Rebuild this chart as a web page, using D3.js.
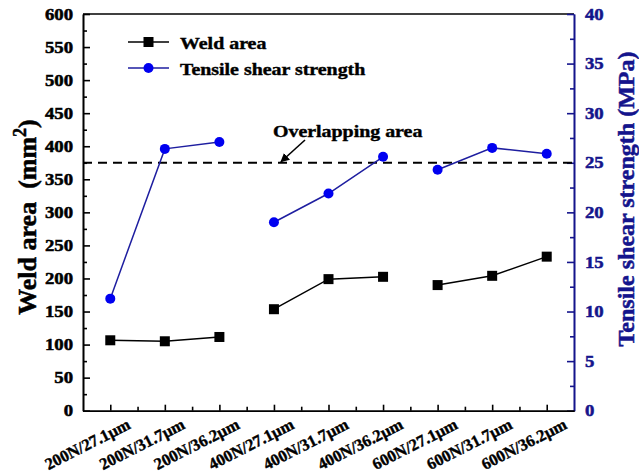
<!DOCTYPE html>
<html><head><meta charset="utf-8">
<script src="https://cdn.jsdelivr.net/npm/d3@7"></script>
<style>
html,body{margin:0;padding:0;background:#fff;}
svg{display:block;font-family:"Liberation Serif","Times New Roman",serif;font-weight:bold;}
svg text{font-family:"Liberation Serif","Times New Roman",serif;font-weight:bold;}
</style></head>
<body><svg id="c" width="639" height="473"></svg>
<script>
const categories = ["200N/27.1\u03bcm","200N/31.7\u03bcm","200N/36.2\u03bcm","400N/27.1\u03bcm","400N/31.7\u03bcm","400N/36.2\u03bcm","600N/27.1\u03bcm","600N/31.7\u03bcm","600N/36.2\u03bcm"];
const groups = ["200N","200N","200N","400N","400N","400N","600N","600N","600N"];
const weldArea = [106.5, 105, 111.5, 153.5, 199, 202.5, 190, 204, 233];
const tensileStrength = [11.3, 26.4, 27.1, 19.0, 21.9, 25.6, 24.3, 26.5, 25.9];
const leftTicks = [0,50,100,150,200,250,300,350,400,450,500,550,600];
const rightTicks = [0,5,10,15,20,25,30,35,40];
const overlapArea = 375;

const navy = "#14148c", blue = "#0000f0", lineBlue = "#1e1ea0";
const svg = d3.select("#c");
const L = 83, R = 574, T = 14, B = 410.7;
const K = 1.17; // horizontal stretch of glyphs seen in the reference

const x = d3.scaleLinear().domain([0, categories.length]).range([L, R]);
const yL = d3.scaleLinear().domain([0, 600]).range([B, T]);
const yR = d3.scaleLinear().domain([0, 40]).range([B, T]);
const cx = i => x(i + 0.5);

function stretch(sel, k) {
  sel.each(function () {
    const l = this.getComputedTextLength();
    this.setAttribute("textLength", l * k);
    this.setAttribute("lengthAdjust", "spacingAndGlyphs");
  });
}
function heavy(sel, color, w) {
  sel.attr("stroke", color).attr("stroke-width", w).attr("paint-order", "stroke");
}

// top border
svg.append("line").attr("x1", L).attr("x2", R).attr("y1", T).attr("y2", T)
  .attr("stroke", "#000").attr("stroke-width", 1.6);

// left axis
const gL = svg.append("g").attr("transform", `translate(${L},0)`);
gL.call(d3.axisLeft(yL).tickValues(leftTicks).tickSizeInner(-7).tickSizeOuter(0).tickPadding(10));
gL.append("g").call(d3.axisLeft(yL).tickValues(d3.range(25, 600, 50)).tickSizeInner(-4).tickSizeOuter(0).tickFormat(""));
gL.selectAll("path,line").attr("stroke", "#000").attr("stroke-width", 1.6);
gL.selectAll("text").attr("font-size", 16).attr("fill", "#000");
heavy(gL.selectAll("text"), "#000", 0.5);
stretch(gL.selectAll("text"), K);

// right axis
const gR = svg.append("g").attr("transform", `translate(${R},0)`);
gR.call(d3.axisRight(yR).tickValues(rightTicks).tickSizeInner(-7).tickSizeOuter(0).tickPadding(11));
gR.append("g").call(d3.axisRight(yR).tickValues(d3.range(2.5, 40, 5)).tickSizeInner(-4).tickSizeOuter(0).tickFormat(""));
gR.selectAll("path,line").attr("stroke", navy).attr("stroke-width", 1.6);
gR.selectAll("text").attr("font-size", 16).attr("fill", navy);
heavy(gR.selectAll("text"), navy, 0.5);
stretch(gR.selectAll("text"), K);

// bottom axis
const gB = svg.append("g").attr("transform", `translate(0,${B})`);
gB.call(d3.axisBottom(x).tickValues(categories.map((c, i) => i + 0.5)).tickSizeInner(-6).tickSizeOuter(0).tickFormat(""));
gB.append("g").call(d3.axisBottom(x).tickValues(d3.range(1, categories.length)).tickSizeInner(-4).tickSizeOuter(0).tickFormat(""));
gB.selectAll("path,line").attr("stroke", "#000").attr("stroke-width", 1.6);

const xl = svg.append("g").selectAll("text").data(categories).join("text")
  .attr("transform", (d, i) => `translate(${cx(i) + 16},${B + 7}) rotate(-27)`)
  .attr("text-anchor", "end").attr("dy", "0.7em")
  .attr("font-size", 16.5).attr("fill", "#000").text(d => d);
heavy(xl, "#000", 0.4);

// overlapping area dashed line
svg.append("line").attr("x1", L).attr("x2", R).attr("y1", yL(overlapArea)).attr("y2", yL(overlapArea))
  .attr("stroke", "#000").attr("stroke-width", 1.8).attr("stroke-dasharray", "9,6");

svg.append("defs").append("marker").attr("id", "ah").attr("viewBox", "0 0 10 10")
  .attr("refX", 9).attr("refY", 5).attr("markerWidth", 9).attr("markerHeight", 9)
  .attr("markerUnits", "userSpaceOnUse").attr("orient", "auto")
  .append("path").attr("d", "M0,0 L10,5 L0,10 Z").attr("fill", "#000");
svg.append("line").attr("x1", 305).attr("y1", 140).attr("x2", 281).attr("y2", yL(overlapArea) - 1)
  .attr("stroke", "#000").attr("stroke-width", 1.6).attr("marker-end", "url(#ah)");
const ov = svg.append("text").attr("x", 273).attr("y", 137).attr("font-size", 17).attr("fill", "#000").text("Overlapping area");
heavy(ov, "#000", 0.4);
stretch(ov, K);

// series lines, broken between groups
const idx = d3.range(categories.length);
const grouped = d3.groups(idx, i => groups[i]);
const lineW = d3.line().x(i => cx(i)).y(i => yL(weldArea[i]));
const lineT = d3.line().x(i => cx(i)).y(i => yR(tensileStrength[i]));
svg.append("g").selectAll("path").data(grouped).join("path")
  .attr("d", d => lineW(d[1])).attr("fill", "none").attr("stroke", "#000").attr("stroke-width", 1.5);
svg.append("g").selectAll("path").data(grouped).join("path")
  .attr("d", d => lineT(d[1])).attr("fill", "none").attr("stroke", lineBlue).attr("stroke-width", 1.5);

const sq = 10;
svg.append("g").selectAll("rect").data(idx).join("rect")
  .attr("x", i => cx(i) - sq / 2).attr("y", i => yL(weldArea[i]) - sq / 2)
  .attr("width", sq).attr("height", sq).attr("fill", "#000");
svg.append("g").selectAll("circle").data(idx).join("circle")
  .attr("cx", i => cx(i)).attr("cy", i => yR(tensileStrength[i])).attr("r", 5).attr("fill", blue);

// legend
const lg = svg.append("g");
lg.append("line").attr("x1", 128).attr("x2", 169).attr("y1", 42).attr("y2", 42).attr("stroke", "#000").attr("stroke-width", 1.5);
lg.append("rect").attr("x", 148.5 - sq / 2).attr("y", 42 - sq / 2).attr("width", sq).attr("height", sq).attr("fill", "#000");
lg.append("line").attr("x1", 128).attr("x2", 169).attr("y1", 68).attr("y2", 68).attr("stroke", lineBlue).attr("stroke-width", 1.5);
lg.append("circle").attr("cx", 148.5).attr("cy", 68).attr("r", 5).attr("fill", blue);
const lt1 = lg.append("text").attr("x", 180).attr("y", 48.5).attr("font-size", 17).attr("fill", "#000").text("Weld area");
const lt2 = lg.append("text").attr("x", 180).attr("y", 74.5).attr("font-size", 17).attr("fill", "#000").text("Tensile shear strength");
heavy(lt1, "#000", 0.4); heavy(lt2, "#000", 0.4);
stretch(lt1, K); stretch(lt2, K);

// axis titles
const t1 = svg.append("text").attr("transform", "translate(36,217) rotate(-90)").attr("text-anchor", "middle")
  .attr("font-size", 26).attr("fill", "#000");
t1.append("tspan").text("Weld area\u00a0 (mm");
t1.append("tspan").attr("font-size", 18).attr("dy", -10).text("2");
t1.append("tspan").attr("dy", 10).text(")");
heavy(t1, "#000", 0.5);

const t2 = svg.append("text").attr("transform", "translate(634,199) rotate(-90)").attr("text-anchor", "middle")
  .attr("font-size", 24).attr("fill", navy).text("Tensile shear strength (MPa)");
heavy(t2, navy, 0.5);
</script></body></html>
